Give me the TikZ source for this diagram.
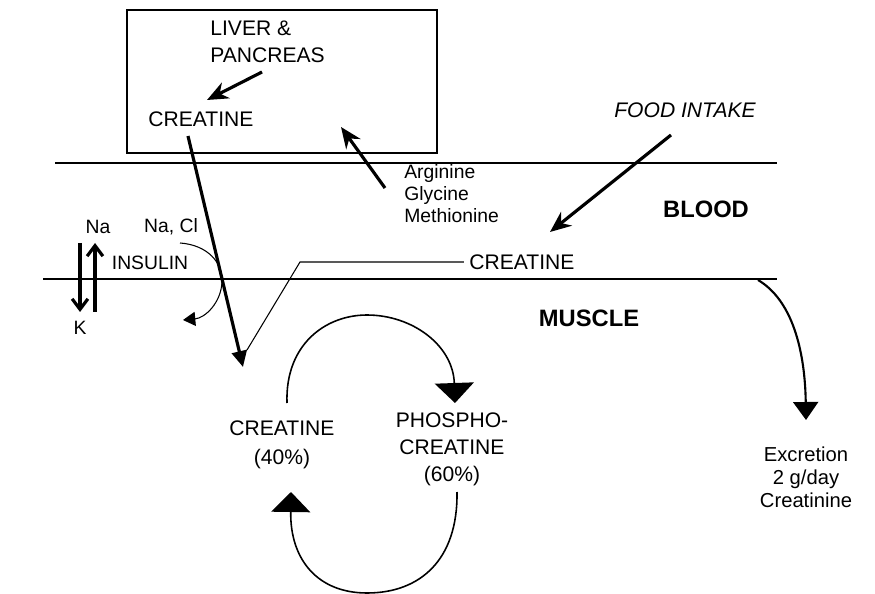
\documentclass[tikz,border=0pt]{standalone}
\usepackage{fontspec}
\setmainfont{Liberation Sans}
\usepackage{tikz}
\usetikzlibrary{arrows.meta, positioning}

\begin{document}
\begin{tikzpicture}[x=0.02cm, y=-0.02cm,
		lbl/.style={inner sep=0pt, font=\fontsize{12}{15.3}\selectfont},
		sml/.style={inner sep=0pt, font=\fontsize{11}{12.5}\selectfont},
		big/.style={inner sep=0pt, font=\fontsize{13.5}{16}\selectfont\bfseries},
		thk/.style={line width=1.8pt, -{Stealth[length=12pt, width=10pt]}},
		cyc/.style={line width=0.9pt, -{Triangle[length=0.4cm, width=0.78cm]}}]
		\useasboundingbox (0,0) rectangle (875,594);
		% Draw box and membranes
		\draw[line width=0.8pt] (127,10) rectangle (437,153);
		\draw[line width=0.8pt] (55,163) -- (777,163);
		\draw[line width=0.8pt] (43,279) -- (777,279);
		% Labels
		\node[lbl, align=left, anchor=west] (liver) at (210,41.5) {LIVER \&\\PANCREAS};
		\node[lbl] (lcre) at (201,119) {CREATINE};
		\node[sml, align=left, anchor=west] (amino) at (404,194) {Arginine\\Glycine\\Methionine};
		\node[lbl, font=\fontsize{12}{15}\selectfont\itshape] (food) at (685,110) {FOOD INTAKE};
		\node[big] (blood) at (706,209) {BLOOD};
		\node[lbl] (bcre) at (522,262) {CREATINE};
		\node[big] (muscle) at (589,318) {MUSCLE};
		\node[sml] (na) at (98,227) {Na};
		\node[sml] (nacl) at (171,227) {Na, Cl};
		\node[sml] (insulin) at (150,263) {INSULIN};
		\node[sml] (k) at (80,328) {K};
		\node[lbl, align=center, font=\fontsize{12}{16.4}\selectfont] (cre) at (282,445) {CREATINE\\(40\%)};
		\node[lbl, align=center] (pcre) at (452,449) {PHOSPHO-\\CREATINE\\(60\%)};
		\node[sml, align=center, font=\fontsize{11.5}{13}\selectfont] (excr) at (806,477) {Excretion\\2 g/day\\Creatinine};
		% Free ends
		\coordinate (lv) at (262,72);
		\coordinate (lvend) at (207,100);
		\coordinate (crs) at (188,136);
		\coordinate (mus) at (243,367);
		\coordinate (am) at (385,188);
		\coordinate (amend) at (341,127);
		\coordinate (fd) at (671,135);
		\coordinate (fdend) at (550,232);
		\coordinate (bend) at (300,262);
		\coordinate (bjoin) at (247,350);
		% Arrows
		\draw[thk] (lv) -- (lvend);
		\draw[thk] (am) -- (amend);
		\draw[thk] (fd) -- (fdend);
		\draw[line width=0.6pt, shorten <=3pt] (bcre.west) -- (bend) -- (bjoin);
		\draw[line width=1.8pt, -{Triangle[length=0.32cm, width=0.3cm]}] (crs) -- (mus);
		% Na / K exchange
		\draw[line width=1.8pt, -{Straight Barb[length=6pt, width=9pt]}] (80,243) -- (80,312);
		\draw[line width=1.8pt, -{Straight Barb[length=6pt, width=9pt]}] (95,312) -- (95,243);
		\draw[line width=0.6pt, -{Triangle[length=7pt, width=8pt]}] (180,243) .. controls (208,245) and (223,263) .. (222,282) .. controls (221,303) and (205,318) .. (183,320);
		% Cycle
		\draw[cyc] (287,403) .. controls (285,345) and (325,315) .. (367,315) .. controls (412,315) and (453,345) .. (455,403);
		\draw[cyc] (457,492) .. controls (458,560) and (420,593) .. (367,593) .. controls (318,593) and (290,560) .. (291,492);
		% Excretion
		\draw[line width=1.2pt, -{Triangle[length=0.36cm, width=0.5cm]}] (758,280) .. controls (792,300) and (805,350) .. (806,420);
	\end{tikzpicture}
\end{document}
